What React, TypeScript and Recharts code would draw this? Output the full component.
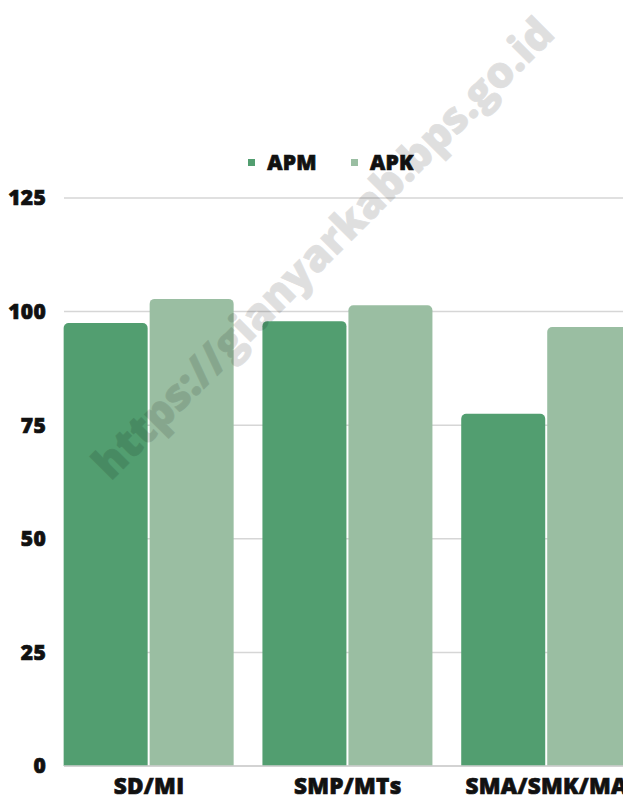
import { BarChart, Bar, XAxis, YAxis, CartesianGrid, Legend } from 'recharts'

const levels = ['SD/MI', 'SMP/MTs', 'SMA/SMK/MA']
const apmValues = [97.5, 97.9, 77.5]
const apkValues = [102.8, 101.4, 96.6]
const yTicks = [0, 25, 50, 75, 100, 125]

const APM_COLOR = '#529e70'
const APK_COLOR = '#9abea2'
const FONT = '"Open Sans", "Noto Sans", sans-serif'

const data = levels.map((level, i) => ({
  level,
  APM: apmValues[i],
  APK: apkValues[i],
}))

function LegendContent() {
  const items = [
    { name: 'APM', color: APM_COLOR },
    { name: 'APK', color: APK_COLOR },
  ]
  return (
    <div style={{ display: 'flex', justifyContent: 'center', gap: 34 }}>
      {items.map(item => (
        <div key={item.name} style={{ display: 'flex', alignItems: 'center' }}>
          <span style={{ width: 7, height: 7, background: item.color, marginRight: 12 }} />
          <span
            style={{
              fontFamily: FONT,
              fontWeight: 800,
              fontSize: 21,
              color: '#111',
              WebkitTextStroke: '0.7px #111',
              letterSpacing: 0.3,
            }}
          >
            {item.name}
          </span>
        </div>
      ))}
    </div>
  )
}

export default function App() {
  const yTickStyle = {
    fill: '#111',
    stroke: '#111',
    strokeWidth: 0.7,
    fontSize: 21,
    fontWeight: 800,
    fontFamily: FONT,
    letterSpacing: 0.3,
  }
  const xTickStyle = { ...yTickStyle, fontSize: 22.5 }

  return (
    <div style={{ position: 'fixed', left: 0, top: 0, width: 623, height: 803, overflow: 'hidden', background: '#fff' }}>
      <BarChart
        width={662}
        height={803}
        data={data}
        margin={{ top: 198, right: 16, bottom: 0, left: 0 }}
        barCategoryGap={14}
        barGap={2}
      >
        <CartesianGrid vertical={false} stroke="#d6d6d6" strokeWidth={1.5} />
        <XAxis
          dataKey="level"
          height={37}
          padding={{ left: -14.35, right: 0 }}
          tickLine={false}
          tickSize={0}
          tickMargin={12}
          axisLine={{ stroke: '#cfcfcf', strokeWidth: 1.5 }}
          tick={xTickStyle}
          interval={0}
        />
        <YAxis
          width={64}
          domain={[0, 125]}
          ticks={yTicks}
          tickLine={false}
          axisLine={false}
          tickMargin={12}
          tick={yTickStyle}
        />
        <Legend
          verticalAlign="middle"
          align="center"
          layout="horizontal"
          content={<LegendContent />}
          wrapperStyle={{ top: 148, left: 0, width: 662 }}
        />
        <Bar dataKey="APM" fill={APM_COLOR} radius={[5, 5, 0, 0]} isAnimationActive={false} />
        <Bar dataKey="APK" fill={APK_COLOR} radius={[5, 5, 0, 0]} isAnimationActive={false} />
      </BarChart>
      <div
        style={{
          position: 'absolute',
          left: 322,
          top: 247,
          transform: 'translate(-50%, -50%) rotate(-45deg)',
          fontFamily: FONT,
          fontWeight: 800,
          fontSize: 43,
          color: '#000',
          WebkitTextStroke: '0.8px #000',
          opacity: 0.12,
          whiteSpace: 'nowrap',
          pointerEvents: 'none',
        }}
      >
        https://gianyarkab.bps.go.id
      </div>
    </div>
  )
}
